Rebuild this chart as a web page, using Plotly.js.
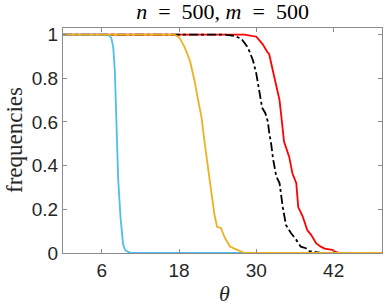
<!DOCTYPE html>
<html>
<head>
<meta charset="utf-8">
<script src="https://cdn.plot.ly/plotly-3.0.1.min.js"></script>
<style>html,body{margin:0;padding:0;background:#fff;}#chart{width:385px;height:307px;}</style>
</head>
<body>
<div id="chart"></div>
<script>
// Series (theta, frequency)
var blueTheta   = [0, 7.0, 7.5, 7.8, 8.05, 8.3, 8.56, 8.93, 9.33, 9.6, 10.1, 10.6, 49.5];
var blueFreq    = [1, 1, 0.985, 0.94, 0.83, 0.57, 0.34, 0.16, 0.04, 0.015, 0.005, 0, 0];

var orangeTheta = [0, 17.3, 18.1, 18.9, 19.7, 20.4, 20.9, 21.5, 22.0, 22.5, 23.0, 23.5, 23.9, 24.5, 25.1, 25.9, 26.6, 27.4, 28.2, 49.5];
var orangeFreq  = [1, 1, 0.985, 0.94, 0.88, 0.79, 0.71, 0.62, 0.50, 0.39, 0.27, 0.176, 0.12, 0.115, 0.07, 0.03, 0.02, 0.01, 0, 0];

var blackTheta  = [0, 25.1, 26.6, 27.7, 28.7, 29.5, 30.0, 30.5, 30.9, 31.4, 31.8, 32.0, 32.3, 32.6, 33.1, 33.6, 34.1, 34.6, 35.4, 36.2, 36.9, 37.7, 38.2, 39.0, 40.0, 49.5];
var blackFreq   = [1, 1, 0.994, 0.98, 0.94, 0.88, 0.82, 0.73, 0.665, 0.64, 0.60, 0.55, 0.50, 0.43, 0.35, 0.32, 0.21, 0.128, 0.09, 0.06, 0.029, 0.022, 0.009, 0.006, 0, 0];

var redTheta    = [0, 28.2, 30.0, 31.0, 31.7, 32.0, 32.6, 33.1, 33.6, 33.9, 34.3, 35.1, 35.6, 36.2, 36.5, 37.2, 37.9, 38.5, 39.3, 40.0, 40.6, 41.8, 42.3, 43.0, 49.5];
var redFreq     = [1, 1, 0.99, 0.955, 0.92, 0.91, 0.83, 0.77, 0.70, 0.62, 0.51, 0.44, 0.365, 0.32, 0.21, 0.167, 0.105, 0.083, 0.044, 0.029, 0.02, 0.014, 0.005, 0, 0];

var xTicks = [6, 18, 30, 42];
var yTicks = [0, 0.2, 0.4, 0.6, 0.8, 1];
var yTickText = ['0', '0.2', '0.4', '0.6', '0.8', '1'];

var traces = [
  {x: redTheta, y: redFreq, mode: 'lines', line: {color: '#FF0000', width: 1.8}},
  {x: blackTheta, y: blackFreq, mode: 'lines', line: {color: '#000000', width: 1.8, dash: 'dashdot'}},
  {x: blueTheta, y: blueFreq, mode: 'lines', line: {color: '#4DBEEE', width: 1.8}},
  {x: orangeTheta, y: orangeFreq, mode: 'lines', line: {color: '#EDB120', width: 1.8}}
];

var axisCommon = {
  showgrid: false, zeroline: false, showline: true, mirror: 'ticks',
  linecolor: '#8c8c8c', linewidth: 1, ticks: 'inside', ticklen: 4, tickcolor: '#8c8c8c',
  tickfont: {family: 'Liberation Sans, Arial, sans-serif', size: 19, color: '#262626'}
};

var serif = 'Liberation Serif';

var layout = {
  width: 385, height: 307,
  margin: {l: 63, r: 3, t: 28, b: 54},
  paper_bgcolor: '#fff', plot_bgcolor: '#fff',
  showlegend: false,
  title: {
    text: '<i>n</i>\u00A0\u00A0=\u00A0\u00A0500,\u00A0<i>m</i>\u00A0\u00A0=\u00A0\u00A0500',
    font: {family: serif, size: 22, color: '#000'},
    x: 0.578, xref: 'container', xanchor: 'center',
    y: 0.9635, yref: 'container', yanchor: 'middle'
  },
  xaxis: Object.assign({}, axisCommon, {
    range: [0, 49.5], tickvals: xTicks, ticktext: xTicks.map(String)
  }),
  yaxis: Object.assign({}, axisCommon, {
    range: [0, 1.03], tickvals: yTicks, ticktext: yTickText
  }),
  annotations: [
    {text: '<i>θ</i>', xref: 'paper', yref: 'paper', x: 0.505, y: -0.182, xanchor: 'center', yanchor: 'middle',
     borderpad: 0, showarrow: false, font: {family: serif, size: 22, color: '#262626'}},
    {text: 'frequencies', xref: 'paper', yref: 'paper', x: -0.152, y: 0.5, xanchor: 'center', yanchor: 'middle',
     textangle: -90, borderpad: 0, showarrow: false, font: {family: serif, size: 23, color: '#262626'}}
  ]
};

Plotly.newPlot('chart', traces, layout, {staticPlot: true, displayModeBar: false});
</script>
</body>
</html>
